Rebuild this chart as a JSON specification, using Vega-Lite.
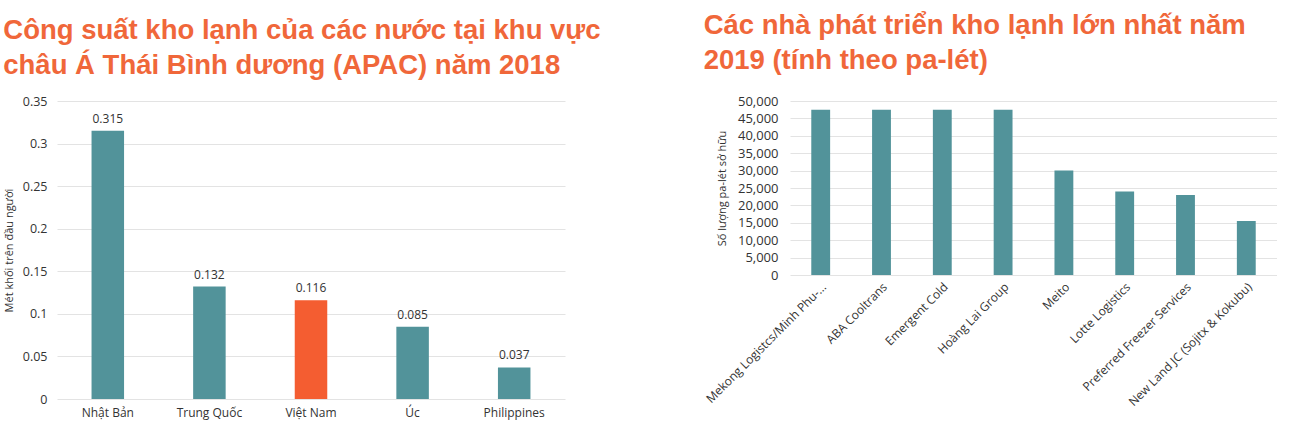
{
  "$schema": "https://vega.github.io/schema/vega-lite/v6.json",
  "padding": {"left": 3, "top": 11, "right": 0, "bottom": 12},
  "background": "white",
  "config": {
    "font": "Open Sans",
    "view": {"stroke": null},
    "title": {
      "font": "Liberation Sans",
      "fontWeight": "bold",
      "fontSize": 27.5,
      "lineHeight": 35,
      "color": "#F0673A",
      "anchor": "start",
      "frame": "bounds"
    },
    "axis": {
      "labelFont": "Open Sans",
      "titleFont": "Open Sans",
      "labelColor": "#333333",
      "titleColor": "#333333",
      "titleFontWeight": "normal",
      "gridColor": "#e3e3e3",
      "ticks": false,
      "domain": false
    }
  },
  "hconcat": [
    {
      "title": {
        "text": ["Công suất kho lạnh của các nước tại khu vực", "châu Á Thái Bình dương (APAC) năm 2018"],
        "offset": 16
      },
      "width": 508,
      "height": 298,
      "data": {
        "values": [
          {"country": "Nhật Bản", "value": 0.315},
          {"country": "Trung Quốc", "value": 0.132},
          {"country": "Việt Nam", "value": 0.116},
          {"country": "Úc", "value": 0.085},
          {"country": "Philippines", "value": 0.037}
        ]
      },
      "encoding": {
        "x": {
          "field": "country",
          "type": "nominal",
          "sort": null,
          "title": null,
          "scale": {"paddingInner": 0.68, "paddingOuter": 0.34},
          "axis": {"labelAngle": 0, "labelFontSize": 12, "labelPadding": 8, "grid": false}
        },
        "y": {
          "field": "value",
          "type": "quantitative",
          "title": "Mét khối trên đầu người",
          "scale": {"domain": [0, 0.35]},
          "axis": {
            "values": [0, 0.05, 0.1, 0.15, 0.2, 0.25, 0.3, 0.35],
            "format": "~g",
            "labelFontSize": 12.5,
            "labelPadding": 10,
            "titleFontSize": 11,
            "titlePadding": 8
          }
        }
      },
      "layer": [
        {
          "mark": {"type": "bar"},
          "encoding": {
            "color": {
              "condition": {"test": "datum.country == 'Việt Nam'", "value": "#F45D31"},
              "value": "#52939A"
            }
          }
        },
        {
          "mark": {"type": "text", "dy": -12, "fontSize": 12, "color": "#333333"},
          "encoding": {
            "text": {"field": "value", "type": "quantitative", "format": ".3f"}
          }
        }
      ]
    },
    {
      "title": {
        "text": ["Các nhà phát triển kho lạnh lớn nhất năm", "2019 (tính theo pa-lét)"],
        "offset": 21
      },
      "width": 487,
      "height": 174,
      "data": {
        "values": [
          {"company": "Mekong Logistcs/Minh Phu-...", "pallets": 47500},
          {"company": "ABA Cooltrans", "pallets": 47500},
          {"company": "Emergent Cold", "pallets": 47500},
          {"company": "Hoàng Lai Group", "pallets": 47500},
          {"company": "Meito", "pallets": 30000},
          {"company": "Lotte Logistics", "pallets": 24000},
          {"company": "Preferred Freezer Services", "pallets": 23000},
          {"company": "New Land JC (Sojitx & Kokubu)", "pallets": 15500}
        ]
      },
      "mark": {"type": "bar", "color": "#52939A"},
      "encoding": {
        "x": {
          "field": "company",
          "type": "nominal",
          "sort": null,
          "title": null,
          "scale": {"paddingInner": 0.69, "paddingOuter": 0.35},
          "axis": {"labelAngle": -45, "labelFontSize": 12, "labelPadding": 6, "labelLimit": 300, "grid": false}
        },
        "y": {
          "field": "pallets",
          "type": "quantitative",
          "title": "Số lượng pa-lét sở hữu",
          "scale": {"domain": [0, 50000]},
          "axis": {
            "values": [0, 5000, 10000, 15000, 20000, 25000, 30000, 35000, 40000, 45000, 50000],
            "format": ",d",
            "labelFontSize": 13,
            "labelPadding": 12,
            "titleFontSize": 11,
            "titlePadding": 10
          }
        }
      }
    }
  ],
  "spacing": 102
}
